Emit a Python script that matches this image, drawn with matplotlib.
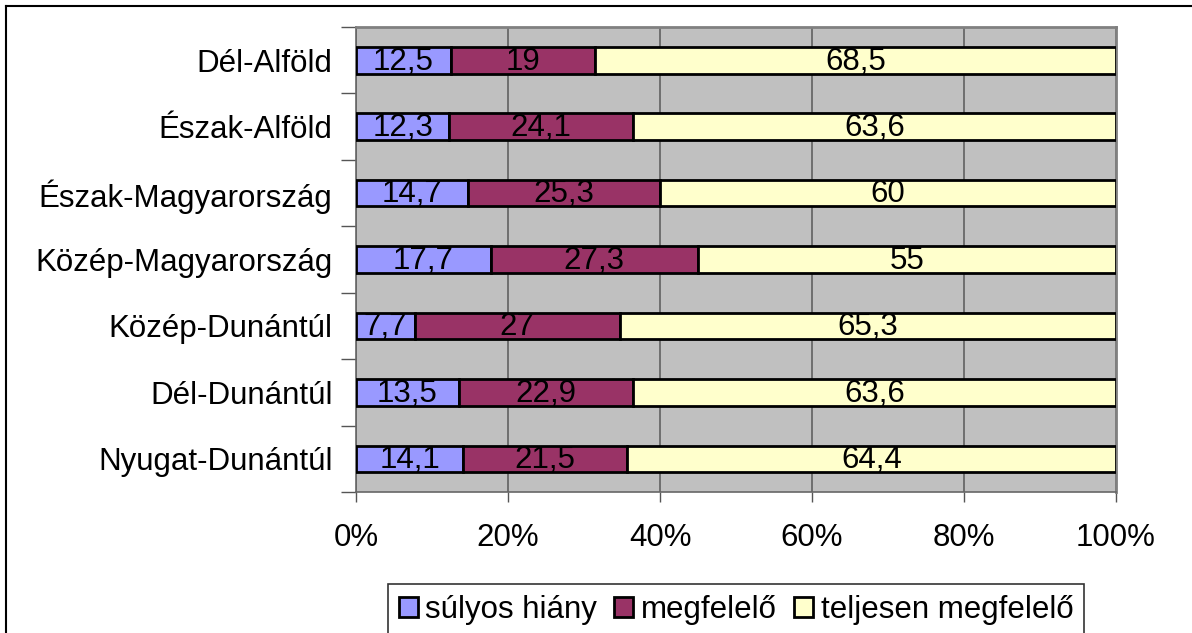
import numpy as np
import matplotlib.pyplot as plt
from matplotlib.patches import Patch
from matplotlib.lines import Line2D

plt.rcParams['font.family'] = ['Liberation Sans', 'DejaVu Sans']

# data (top to bottom as in the chart)
regions = ["Dél-Alföld", "Észak-Alföld", "Észak-Magyarország", "Közép-Magyarország",
           "Közép-Dunántúl", "Dél-Dunántúl", "Nyugat-Dunántúl"]
sulyos = [12.5, 12.3, 14.7, 17.7, 7.7, 13.5, 14.1]
megfelelo = [19, 24.1, 25.3, 27.3, 27, 22.9, 21.5]
teljesen = [68.5, 63.6, 60, 55, 65.3, 63.6, 64.4]
series_names = ["súlyos hiány", "megfelelő", "teljesen megfelelő"]
colors = ["#9999FF", "#993366", "#FFFFCC"]

fs = 22.5

fig = plt.figure(figsize=(11.92, 6.33), dpi=100)
ax = fig.add_axes([356/1192, 1-492/633, 760/1192, 465/633])
ax.set_facecolor("#C0C0C0")

vals = np.array([sulyos, megfelelo, teljesen], dtype=float)
totals = vals.sum(axis=0)
pct = vals / totals * 100
y = np.arange(len(regions))[::-1]

left = np.zeros(len(regions))
for i in range(3):
    ax.barh(y, pct[i], left=left, height=0.4, color=colors[i],
            edgecolor="black", linewidth=2, zorder=3)
    for yy, l, w, v in zip(y, left, pct[i], vals[i]):
        txt = ("%g" % v).replace(".", ",")
        ax.text(l + w/2, yy - 0.02, txt, ha="center", va="center", fontsize=fs, zorder=4)
    left += pct[i]

ax.set_xlim(0, 100)
ax.set_ylim(-0.5, len(regions) - 0.5)
ax.set_xticks([0, 20, 40, 60, 80, 100])
ax.set_xticklabels(["0%", "20%", "40%", "60%", "80%", "100%"], fontsize=fs)
ax.set_yticks(y)
ax.set_yticklabels(regions, fontsize=fs)
ax.set_yticks(np.arange(len(regions) + 1) - 0.5, minor=True)
ax.tick_params(axis="y", which="major", length=0, pad=17)
ax.tick_params(axis="y", which="minor", length=11, width=1, color="#555555", direction="out")
ax.tick_params(axis="x", length=7, width=1, color="#555555", pad=15)
ax.xaxis.grid(True, color="#606060", linewidth=1.2, zorder=1)
ax.set_axisbelow(True)
for s in ["top", "right"]:
    ax.spines[s].set_color("#808080")
    ax.spines[s].set_linewidth(2)
for s in ["left", "bottom"]:
    ax.spines[s].set_color("#666666")
    ax.spines[s].set_linewidth(1.2)

# legend
handles = [Patch(facecolor=c, edgecolor="black", linewidth=2) for c in colors]
leg = fig.legend(handles, series_names, loc="center", bbox_to_anchor=(736/1192, 1-610/633),
                 ncol=3, fontsize=fs, frameon=True, fancybox=False, handlelength=0.6,
                 handleheight=0.6, handletextpad=0.25, columnspacing=0.55, borderpad=0.35,
                 borderaxespad=0)
leg.get_frame().set_edgecolor("black")
leg.get_frame().set_linewidth(1.2)

# outer chart border (top and left visible)
fig.add_artist(Line2D([6/1192, 1], [1-6/633, 1-6/633], color="black", linewidth=1.5,
                      transform=fig.transFigure))
fig.add_artist(Line2D([6/1192, 6/1192], [0, 1-6/633], color="black", linewidth=1.5,
                      transform=fig.transFigure))

fig.savefig("out.png", dpi=100)
